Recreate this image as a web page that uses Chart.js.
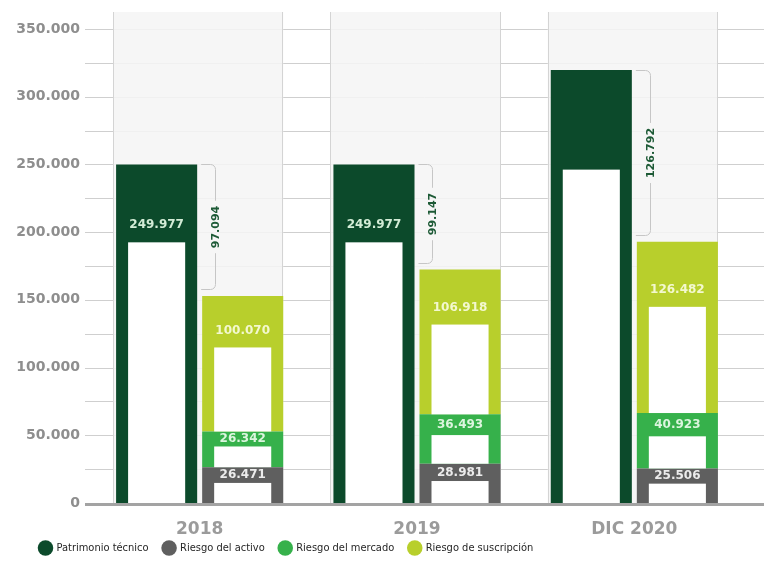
<!DOCTYPE html>
<html lang="es">
<head>
<meta charset="utf-8">
<title>Patrimonio técnico y requerimientos de capital</title>
<script src="https://cdn.jsdelivr.net/npm/chart.js@4.4.1/dist/chart.umd.min.js"></script>
<style>
  html, body { margin: 0; padding: 0; background: #fff; }
  #wrap { width: 764px; height: 569px; position: relative; }
</style>
</head>
<body>
<div id="wrap"><canvas id="capitalChart"></canvas></div>
<script>
const periodos = ['2018', '2019', 'DIC 2020'];
const patrimonio = [249977, 249977, 319703];
const patrimonioRotulado = [true, true, false];
const riesgoActivo = [26471, 28981, 25506];
const riesgoMercado = [26342, 36493, 40923];
const riesgoSuscripcion = [100070, 106918, 126482];
const excedentes = [97094, 99147, 126792];
const ejeYMax = 350000;
const ejeYPaso = 25000;

const fmt = n => String(n).replace(/\B(?=(\d{3})+(?!\d))/g, '.');

// cuadrícula extendida y paneles grises detrás de cada periodo
const fondo = {
    id: 'fondo',
    beforeDatasetsDraw(chart) {
        const { ctx, chartArea, scales: { y } } = chart;
        const x0 = chartArea.left - 6;
        ctx.save();
        ctx.lineWidth = 1;
        ctx.strokeStyle = '#cfcfcf';
        y.ticks.forEach(t => {
            if (t.value === 0) return;
            const py = Math.round(y.getPixelForValue(t.value)) + 0.5;
            ctx.beginPath();
            ctx.moveTo(x0, py);
            ctx.lineTo(chart.width, py);
            ctx.stroke();
        });

        const pat = chart.getDatasetMeta(0).data;
        const sus = chart.getDatasetMeta(3).data;
        const top = chartArea.top - 17;
        pat.forEach((bar, i) => {
            const left = bar.x - bar.width / 2 - 3;
            const right = sus[i].x + sus[i].width / 2;
            ctx.fillStyle = 'rgba(245,245,245,0.88)';
            ctx.fillRect(left, top, right - left, chartArea.bottom - top);
            ctx.strokeStyle = '#d4d4d4';
            ctx.beginPath();
            ctx.moveTo(Math.round(left) + 0.5, top);
            ctx.lineTo(Math.round(left) + 0.5, chartArea.bottom);
            ctx.moveTo(Math.round(right) - 0.5, top);
            ctx.lineTo(Math.round(right) - 0.5, chartArea.bottom);
            ctx.stroke();
        });
        ctx.restore();
    }
};

// recuadro blanco interior, rótulos de valor y llaves del excedente
const detalle = {
    id: 'detalle',
    afterDatasetsDraw(chart) {
        const { ctx, chartArea } = chart;
        ctx.save();
        chart.data.datasets.forEach((ds, di) => {
            const meta = chart.getDatasetMeta(di);
            meta.data.forEach((bar, i) => {
                const left = bar.x - bar.width / 2 + 12;
                const w = bar.width - 24;
                const h = bar.base - bar.y;
                const whiteTop = bar.base - h * ds.interior;
                ctx.fillStyle = '#ffffff';
                ctx.fillRect(left, whiteTop, w, bar.base - whiteTop);

                if (ds.stack === 'patrimonio' && !patrimonioRotulado[i]) return;
                const band = whiteTop - bar.y;
                ctx.fillStyle = ds.colorRotulo;
                ctx.font = 'bold 12px "DejaVu Sans"';
                ctx.textAlign = 'center';
                ctx.textBaseline = 'middle';
                ctx.fillText(fmt(ds.data[i]), bar.x, whiteTop - Math.min(17, band / 2));
            });
        });

        const pat = chart.getDatasetMeta(0).data;
        const sus = chart.getDatasetMeta(3).data;
        ctx.lineWidth = 1;
        pat.forEach((bar, i) => {
            const x0 = sus[i].x - sus[i].width / 2 - 1;
            const xv = Math.round(x0 + 14) + 0.5;
            const yTop = Math.round(bar.y) + 0.5;
            const yBot = Math.round(sus[i].y) - 6.5;
            const r = 5;
            const mid = (yTop + yBot) / 2;
            const txt = fmt(excedentes[i]);
            ctx.font = 'bold 11px "DejaVu Sans"';
            const half = ctx.measureText(txt).width / 2 + 5;
            ctx.strokeStyle = '#c6c6c6';
            ctx.beginPath();
            ctx.moveTo(x0, yTop);
            ctx.arcTo(xv, yTop, xv, yTop + r, r);
            ctx.lineTo(xv, mid - half);
            ctx.moveTo(xv, mid + half);
            ctx.lineTo(xv, yBot - r);
            ctx.arcTo(xv, yBot, x0, yBot, r);
            ctx.lineTo(x0, yBot);
            ctx.stroke();

            ctx.save();
            ctx.translate(xv + 1, mid);
            ctx.rotate(-Math.PI / 2);
            ctx.fillStyle = '#1d5a36';
            ctx.textAlign = 'center';
            ctx.textBaseline = 'middle';
            ctx.fillText(txt, 0, 0);
            ctx.restore();
        });

        // línea base gruesa del eje
        ctx.strokeStyle = '#a3a3a3';
        ctx.lineWidth = 3;
        ctx.beginPath();
        ctx.moveTo(chartArea.left - 6, chartArea.bottom + 1.5);
        ctx.lineTo(chart.width, chartArea.bottom + 1.5);
        ctx.stroke();
        ctx.restore();
    }
};

// la leyenda va un poco más a la derecha y más pegada a los años
const leyendaPos = {
    id: 'leyendaPos',
    afterLayout(chart) {
        const lg = chart.legend;
        lg.left += 25;
        lg.right += 25;
        lg.top -= 11.5;
        lg.height += 11.5;
    }
};

const ctx = document.getElementById('capitalChart');

new Chart(ctx, {
    type: 'bar',
    data: {
        labels: periodos,
        datasets: [
            { label: 'Patrimonio técnico', data: patrimonio, stack: 'patrimonio', backgroundColor: '#0c4a2b', interior: 0.77, colorRotulo: '#d3ecd6' },
            { label: 'Riesgo del activo', data: riesgoActivo, stack: 'riesgo', backgroundColor: '#5f5f5f', interior: 0.56, colorRotulo: '#ececec' },
            { label: 'Riesgo del mercado', data: riesgoMercado, stack: 'riesgo', backgroundColor: '#36b14b', interior: 0.58, colorRotulo: '#dcf5de' },
            { label: 'Riesgo de suscripción', data: riesgoSuscripcion, stack: 'riesgo', backgroundColor: '#b8cf2c', interior: 0.62, colorRotulo: '#f3f8cf' }
        ]
    },
    options: {
        responsive: true,
        maintainAspectRatio: false,
        animation: false,
        categoryPercentage: 0.792,
        barPercentage: 0.942,
        layout: { padding: { top: 29, left: 0, right: 21, bottom: 0 } },
        scales: {
            x: {
                grid: { display: false, drawTicks: false },
                border: { display: false },
                ticks: {
                    padding: 16,
                    color: '#9b9b9b',
                    font: { family: 'DejaVu Sans', weight: 'bold', size: 17 }
                },
                afterFit: s => { s.height = 36; }
            },
            y: {
                stacked: true,
                min: 0,
                max: ejeYMax,
                grid: { display: false, drawTicks: false },
                border: { display: false },
                ticks: {
                    stepSize: ejeYPaso,
                    autoSkip: false,
                    padding: 11,
                    color: '#8e8e8e',
                    font: { family: 'DejaVu Sans', weight: 'bold', size: 14 },
                    callback: v => (v % 50000 === 0 ? fmt(v) : '')
                },
                afterFit: s => { s.width = 91; }
            }
        },
        plugins: {
            tooltip: { enabled: false },
            legend: {
                position: 'bottom',
                align: 'start',
                maxHeight: 30,
                labels: {
                    usePointStyle: true,
                    pointStyle: 'circle',
                    padding: 15,
                    color: '#262626',
                    font: { family: '"Liberation Sans Narrow", "DejaVu Sans Condensed", sans-serif', size: 11 }
                }
            }
        }
    },
    plugins: [fondo, detalle, leyendaPos]
});
</script>
</body>
</html>
